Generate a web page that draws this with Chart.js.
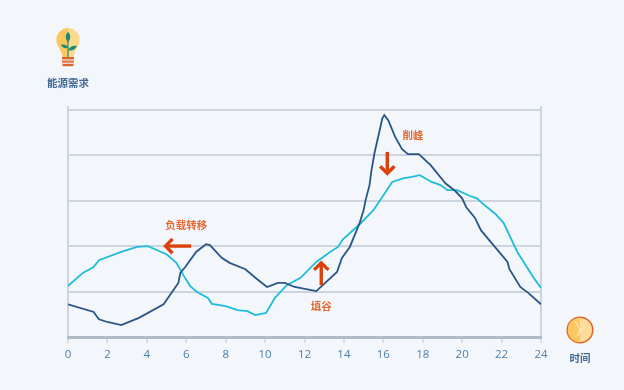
<!DOCTYPE html>
<html>
<head>
<meta charset="utf-8">
<style>
  html, body { margin: 0; padding: 0; background: #f3f6fa; }
  #wrap { position: relative; width: 624px; height: 390px; overflow: hidden; }
  canvas { position: absolute; left: 0; top: 0; }
  .icon { position: absolute; }
  .cap { position: absolute; font: 700 10.5px "Noto Sans CJK SC", sans-serif; color: #456a98; transform: translateX(-50%); white-space: nowrap; line-height: 14px; }
</style>
<script src="https://cdn.jsdelivr.net/npm/chart.js@4"></script>
</head>
<body>
<div id="wrap">
  <canvas id="demandChart" width="624" height="390"></canvas>

  <!-- 灯泡 -->
  <svg class="icon" style="left:52px;top:24px" width="32" height="46" viewBox="0 0 32 46">
    <path d="M16 4 A11.7 11.7 0 0 0 4.3 15.7 C4.3 22 9.5 25 10.5 33 L16 33 Z" fill="#fdc75f"/>
    <path d="M16 4 A11.7 11.7 0 0 1 27.7 15.7 C27.7 22 22.5 25 21.5 33 L16 33 Z" fill="#fbd98f"/>
    <rect x="10" y="33" width="12" height="2.4" fill="#e0622d"/>
    <rect x="10" y="36.4" width="12" height="2.4" fill="#e87a45"/>
    <rect x="10.5" y="39.8" width="11" height="2.4" fill="#e0622d"/>
    <path d="M16 11 V33" stroke="#1f8a70" stroke-width="1.2"/>
    <path d="M16 8 C13 10.5 13 15 16 18 C19 15 19 10.5 16 8 Z" fill="#1f8a70"/>
    <path d="M16 26 C18 22 22 21 25 22 C23 26 19 27.5 16 26 Z" fill="#1f8a70"/>
    <path d="M16 23.5 C14.5 20.5 11.5 20 9 21 C10.5 24 13.5 25 16 23.5 Z" fill="#1f8a70"/>
  </svg>
  <div class="cap" style="left:68px;top:76px">能源需求</div>

  <!-- 时钟 -->
  <svg class="icon" style="left:565px;top:315px" width="30" height="30" viewBox="0 0 30 30">
    <circle cx="15" cy="15" r="12.8" fill="#fddb9a" stroke="#e4672e" stroke-width="1.6"/>
    <path d="M15 2.8 A12.2 12.2 0 0 0 15 27.2 Z" fill="#fdc860"/>
    <path d="M10 6 L15 15 L12.5 21 M15 15 L18 13.5" stroke="#fff4dc" stroke-width="1" fill="none"/>
  </svg>
  <div class="cap" style="left:580px;top:351px">时间</div>
</div>

<script>
// 横轴刻度 / 纵轴网格
const hourTicks = [0, 2, 4, 6, 8, 10, 12, 14, 16, 18, 20, 22, 24];
const gridValues = [0, 100, 200, 300, 400, 500];

// 原始负荷
const demandHours = [0, 1.3, 1.57, 2, 2.7, 3.6, 4.85, 5.6, 5.7, 5.95, 6.5, 7, 7.2, 7.8, 8.2, 9, 9.6, 10.1, 10.65, 11, 11.5, 12.6, 13.65, 13.9, 14.3, 14.65, 14.8, 15, 15.1, 15.3, 15.4, 15.55, 15.95, 16.05, 16.25, 16.6, 16.95, 17.25, 17.8, 18.4, 19.15, 19.65, 20, 20.2, 20.65, 20.95, 22.3, 22.4, 22.95, 23.35, 24];
const demandValues = [72, 55, 39, 33, 26, 42, 72, 119, 141, 154, 187, 204, 202, 174, 163, 149, 127, 110, 119, 119, 110, 101, 143, 174, 198, 235, 251, 279, 301, 334, 367, 404, 481, 488, 477, 440, 413, 402, 402, 378, 338, 321, 305, 286, 262, 235, 165, 149, 110, 97, 72];

// 调整后负荷
const shiftedHours = [0, 0.75, 1.3, 1.57, 2.7, 3.5, 4.05, 5, 5.5, 5.85, 6.2, 6.55, 7.1, 7.3, 7.7, 8, 8.6, 9.1, 9.5, 10.05, 10.5, 11.1, 11.8, 12.6, 13.3, 13.7, 13.95, 14.8, 15.5, 16.45, 17, 17.45, 17.85, 18.45, 18.9, 19.25, 19.75, 20.4, 20.75, 21, 21.7, 22.1, 22.8, 23.6, 24];
const shiftedValues = [112, 141, 154, 169, 187, 198, 200, 182, 163, 136, 112, 99, 86, 73, 70, 68, 59, 57, 48, 53, 86, 114, 130, 165, 187, 198, 215, 248, 279, 341, 349, 352, 356, 341, 334, 323, 323, 310, 305, 295, 270, 251, 187, 132, 108];

// 标注文字: [文字, 小时, 数值]
const calloutLabels = ['负载转移', '填谷', '削峰'];
const calloutHours = [6, 12.85, 17.5];
const calloutValues = [246, 68, 444];

// 箭头: 起点 -> 终点
const arrowFromHours = [6.25, 12.85, 16.2];
const arrowFromValues = [200, 114, 407];
const arrowToHours = [4.95, 12.85, 16.2];
const arrowToValues = [200, 163, 360];

const toXY = (hours, values) => hours.map((h, i) => ({ x: h, y: values[i] }));

const calloutPlugin = {
    id: 'callouts',
    afterDatasetsDraw(chart) {
        const { ctx, scales } = chart;
        const x = scales.x, y = scales.y;
        ctx.save();

        ctx.strokeStyle = '#d9420c';
        ctx.lineWidth = 3.4;
        ctx.lineJoin = 'miter';
        arrowFromHours.forEach((h, i) => {
            const x1 = x.getPixelForValue(h), y1 = y.getPixelForValue(arrowFromValues[i]);
            const x2 = x.getPixelForValue(arrowToHours[i]), y2 = y.getPixelForValue(arrowToValues[i]);
            const a = Math.atan2(y2 - y1, x2 - x1);
            ctx.beginPath();
            ctx.moveTo(x1, y1);
            ctx.lineTo(x2 - 2 * Math.cos(a), y2 - 2 * Math.sin(a));
            ctx.stroke();
            ctx.beginPath();
            ctx.moveTo(x2 - 10 * Math.cos(a - 0.8), y2 - 10 * Math.sin(a - 0.8));
            ctx.lineTo(x2, y2);
            ctx.lineTo(x2 - 10 * Math.cos(a + 0.8), y2 - 10 * Math.sin(a + 0.8));
            ctx.stroke();
        });

        ctx.fillStyle = '#e56a33';
        ctx.font = '700 10.5px "Noto Sans CJK SC", sans-serif';
        ctx.textAlign = 'center';
        ctx.textBaseline = 'middle';
        calloutLabels.forEach((t, i) => {
            ctx.fillText(t, x.getPixelForValue(calloutHours[i]), y.getPixelForValue(calloutValues[i]));
        });
        ctx.restore();
    }
};

new Chart(document.getElementById('demandChart').getContext('2d'), {
    type: 'line',
    data: {
        datasets: [
            { label: '原始负荷', data: toXY(demandHours, demandValues), borderColor: '#2a5587', borderWidth: 1.8, pointRadius: 0, tension: 0, fill: false },
            { label: '调整后负荷', data: toXY(shiftedHours, shiftedValues), borderColor: '#1fbcdc', borderWidth: 1.8, pointRadius: 0, tension: 0, fill: false }
        ]
    },
    options: {
        responsive: false,
        animation: false,
        layout: { padding: { left: 68, right: 83, top: 106, bottom: 0 } },
        plugins: { legend: { display: false }, tooltip: { enabled: false } },
        scales: {
            x: {
                type: 'linear',
                min: 0,
                max: 24,
                afterBuildTicks: (scale) => { scale.ticks = hourTicks.map(v => ({ value: v })); },
                afterFit: (scale) => { scale.height = 53; },
                border: { color: '#aebcc8', width: 3 },
                grid: {
                    color: (c) => (c.tick && (c.tick.value === 0 || c.tick.value === 24)) ? '#ccd5dd' : 'transparent',
                    lineWidth: 2,
                    tickColor: '#ccd5dd',
                    tickWidth: 1.5,
                    tickLength: 6
                },
                ticks: { color: '#4f7eab', font: { family: '"Open Sans"', size: 11.5, weight: '500' }, padding: 5, maxRotation: 0, autoSkip: false }
            },
            y: {
                min: 0,
                max: 508,
                afterBuildTicks: (scale) => { scale.ticks = gridValues.map(v => ({ value: v })); },
                afterFit: (scale) => { scale.width = 0; },
                border: { display: false },
                grid: { color: '#ccd5dd', lineWidth: 2, drawTicks: false },
                ticks: { display: false }
            }
        }
    },
    plugins: [calloutPlugin]
});
</script>
</body>
</html>
